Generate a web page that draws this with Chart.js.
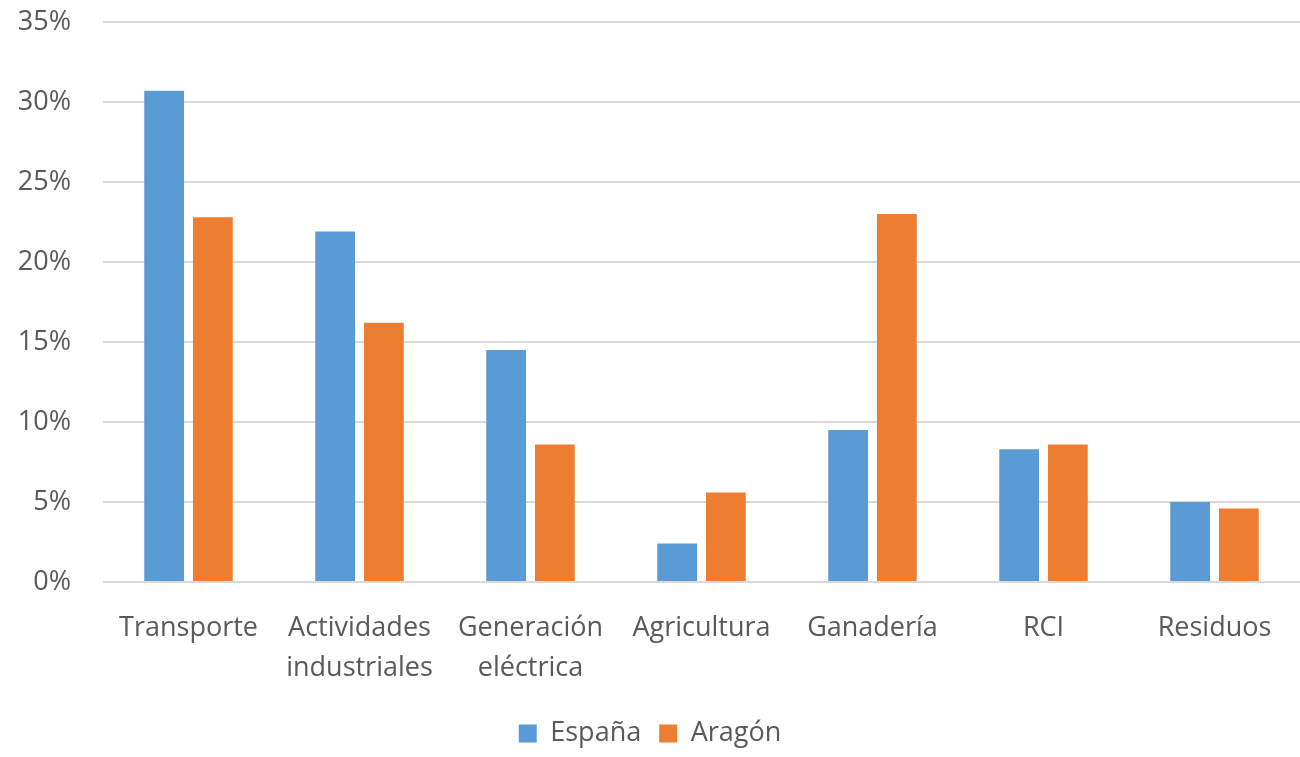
<!DOCTYPE html>
<html>
<head>
<meta charset="utf-8">
<script src="https://cdn.jsdelivr.net/npm/chart.js@4/dist/chart.umd.min.js"></script>
<style>
  html, body { margin: 0; padding: 0; background: #fff; }
  #wrap { width: 1300px; height: 757px; }
</style>
</head>
<body>
<div id="wrap"><canvas id="chart"></canvas></div>
<script>
// Datos
const categorias = [
    'Transporte',
    ['Actividades', 'industriales'],
    ['Generación', 'eléctrica'],
    'Agricultura',
    'Ganadería',
    'RCI',
    'Residuos'
];
const espana = [30.7, 21.9, 14.5, 2.4, 9.5, 8.3, 5.0];
const aragon = [22.8, 16.2, 8.6, 5.6, 23.0, 8.6, 4.6];
const ticksY = [0, 5, 10, 15, 20, 25, 30, 35];

const fuente = "'Open Sans', 'Liberation Sans', sans-serif";
const gris = '#595959';

const ctx = document.getElementById('chart').getContext('2d');
new Chart(ctx, {
    type: 'bar',
    data: {
        labels: categorias,
        datasets: [
            {
                label: 'España',
                data: espana,
                backgroundColor: '#5B9BD5',
                categoryPercentage: 0.57,
                barPercentage: 0.816
            },
            {
                label: 'Aragón',
                data: aragon,
                backgroundColor: '#ED7D31',
                categoryPercentage: 0.57,
                barPercentage: 0.816
            }
        ]
    },
    options: {
        responsive: true,
        maintainAspectRatio: false,
        animation: false,
        layout: { padding: { top: 22, right: 0, bottom: 0, left: 0 } },
        scales: {
            y: {
                min: 0,
                max: 35,
                afterBuildTicks(scale) {
                    scale.ticks = ticksY.map(v => ({ value: v }));
                },
                afterFit(scale) {
                    scale.width = 103;
                    scale.paddingTop = 0;
                    scale.paddingBottom = 0;
                },
                grid: { color: '#D9D9D9', lineWidth: 2, drawTicks: false },
                border: { display: false },
                ticks: {
                    padding: 32,
                    color: gris,
                    font: { family: fuente, size: 27 },
                    callback: v => v + '%'
                }
            },
            x: {
                grid: { display: false },
                border: { display: false },
                afterFit(scale) { scale.height = 120; },
                ticks: {
                    padding: 18,
                    color: gris,
                    maxRotation: 0,
                    autoSkip: false,
                    font: { family: fuente, size: 27, lineHeight: 1.48 }
                }
            }
        },
        plugins: {
            legend: {
                position: 'bottom',
                labels: {
                    color: gris,
                    font: { family: fuente, size: 27 },
                    boxWidth: 18,
                    boxHeight: 18,
                    padding: 18
                }
            },
            tooltip: { enabled: false }
        }
    }
});
</script>
</body>
</html>
